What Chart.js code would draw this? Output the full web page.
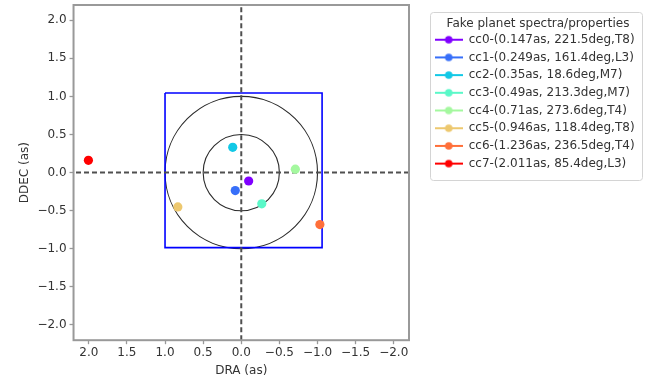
<!DOCTYPE html>
<html lang="en">
<head>
<meta charset="UTF-8">
<title>Fake planet positions</title>
<script src="https://cdn.jsdelivr.net/npm/chart.js"></script>
<style>
  html, body { margin: 0; padding: 0; background: #fff; }
  #wrap { width: 648px; height: 378px; position: relative; }
</style>
</head>
<body>
<div id="wrap"><canvas id="astroChart"></canvas></div>
<script>
// companions: separation (arcsec), position angle (deg), spectral type
const planetNames = ['cc0', 'cc1', 'cc2', 'cc3', 'cc4', 'cc5', 'cc6', 'cc7'];
const planetSep = [0.147, 0.249, 0.35, 0.49, 0.71, 0.946, 1.236, 2.011];
const planetPA = [221.5, 161.4, 18.6, 213.3, 273.6, 118.4, 236.5, 85.4];
const planetType = ['T8', 'L3', 'M7', 'M7', 'T4', 'T8', 'T4', 'L3'];
// offsets on sky (arcsec)
const planetDRA = [-0.097, 0.079, 0.112, -0.269, -0.709, 0.832, -1.031, 2.005];
const planetDDEC = [-0.110, -0.236, 0.332, -0.410, 0.045, -0.450, -0.682, 0.161];
const planetColors = ['#8000ff', '#376ff9', '#12c8e6', '#5af8c8', '#a4f89f', '#edc86f', '#ff6f39', '#ff0000'];

// reference rings and detector field
const ringRadii = [0.5, 1.0];
const fovDRA = [1.0, -1.06, -1.06, 1.0, 1.0];
const fovDDEC = [1.045, 1.045, -0.985, -0.985, 1.045];

const axisTicks = [-2.0, -1.5, -1.0, -0.5, 0.0, 0.5, 1.0, 1.5, 2.0];
const axisLimit = 2.2;

const FONT = 'DejaVu Sans';
const TEXT = '#333';
const FRAME = '#999';

function fmtTick(v) {
  return v.toFixed(1).replace('-', '\u2212');
}

// small line+dot marker for the legend
function makeMarker(color) {
  const c = document.createElement('canvas');
  c.width = 28; c.height = 10;
  const g = c.getContext('2d');
  g.strokeStyle = color; g.lineWidth = 2;
  g.beginPath(); g.moveTo(0, 5); g.lineTo(28, 5); g.stroke();
  g.fillStyle = color;
  g.beginPath(); g.arc(14, 5, 3.8, 0, Math.PI * 2); g.fill();
  return c;
}
const legendMarkers = planetColors.map(makeMarker);

const planetSets = planetNames.map((name, i) => ({
  type: 'scatter',
  label: `${name}-(${planetSep[i]}as, ${planetPA[i]}deg,${planetType[i]})`,
  data: [{ x: planetDRA[i], y: planetDDEC[i] }],
  backgroundColor: planetColors[i],
  borderColor: planetColors[i],
  pointRadius: 4.6,
  pointBorderWidth: 0,
  order: 0
}));

const crossSets = [
  { data: [{ x: 0, y: -axisLimit }, { x: 0, y: axisLimit }] },
  { data: [{ x: -axisLimit, y: 0 }, { x: axisLimit, y: 0 }] }
].map(d => Object.assign(d, {
  type: 'line',
  borderColor: '#4f4f4f',
  borderWidth: 2,
  borderDash: [5, 3],
  pointRadius: 0,
  order: 1
}));

const fovSet = {
  type: 'line',
  data: fovDRA.map((x, i) => ({ x, y: fovDDEC[i] })),
  borderColor: '#0000ff',
  borderWidth: 1.6,
  pointRadius: 0,
  order: 2
};

const ringsPlugin = {
  id: 'rings',
  beforeDatasetsDraw(chart) {
    const { ctx, scales: { x, y } } = chart;
    const cx = x.getPixelForValue(0), cy = y.getPixelForValue(0);
    ctx.save();
    ctx.strokeStyle = '#2a2a2a';
    ctx.lineWidth = 1.1;
    ringRadii.forEach(r => {
      const rx = Math.abs(x.getPixelForValue(r) - cx);
      const ry = Math.abs(y.getPixelForValue(r) - cy);
      ctx.beginPath();
      ctx.ellipse(cx, cy, rx, ry, 0, 0, Math.PI * 2);
      ctx.stroke();
    });
    ctx.restore();
  }
};

// keep a gap between the plot and the legend column
const legendShift = {
  id: 'legendShift',
  afterLayout(chart) {
    const lg = chart.legend;
    lg.left = chart.chartArea.right + 20;
    lg.width = 218;
    lg.right = lg.left + lg.width;
  }
};

const framePlugin = {
  id: 'frame',
  afterDraw(chart) {
    const { ctx, chartArea: a, legend } = chart;
    ctx.save();
    ctx.strokeStyle = FRAME;
    ctx.lineWidth = 2;
    ctx.strokeRect(a.left, a.top, a.right - a.left, a.bottom - a.top);
    // legend box
    ctx.strokeStyle = '#d4d4d4';
    ctx.lineWidth = 1;
    ctx.beginPath();
    ctx.roundRect(legend.left + 1.5, legend.top + 7.5, 212, 168, 3);
    ctx.stroke();
    ctx.restore();
  }
};

// no extra room for half tick labels at the axis ends
function dropEndPadding(s) {
  s.paddingTop = 0; s.paddingBottom = 0;
  s.paddingLeft = 0; s.paddingRight = 0;
}

function axisOpts(title, reverse, tickPad, titlePad) {
  return {
    type: 'linear',
    min: -axisLimit,
    max: axisLimit,
    reverse,
    afterBuildTicks: s => { s.ticks = axisTicks.map(v => ({ value: v })); },
    afterFit: dropEndPadding,
    ticks: {
      callback: v => fmtTick(v),
      color: TEXT,
      font: { family: FONT, size: 12 },
      padding: tickPad,
      maxRotation: 0
    },
    grid: { drawOnChartArea: false, drawTicks: true, tickLength: 4, color: FRAME, tickWidth: 1.3 },
    border: { display: false },
    title: { display: true, text: title, color: TEXT, font: { family: FONT, size: 12 }, padding: titlePad }
  };
}

new Chart(document.getElementById('astroChart'), {
  type: 'scatter',
  data: { datasets: [...planetSets, ...crossSets, fovSet] },
  options: {
    responsive: true,
    maintainAspectRatio: false,
    animation: false,
    layout: { autoPadding: false, padding: { left: 16, top: 5, right: 39, bottom: 0 } },
    scales: {
      x: axisOpts('DRA (as)', true, 1.5, { top: 2, bottom: 0 }),
      y: axisOpts('DDEC (as)', false, 3, { top: 2, bottom: 2 })
    },
    plugins: {
      tooltip: { enabled: false },
      legend: {
        position: 'right',
        align: 'start',
        maxWidth: 200,
        title: {
          display: true,
          text: 'Fake planet spectra/properties',
          color: TEXT,
          font: { family: FONT, size: 12, lineHeight: 1 },
          padding: { top: 13, bottom: -2 }
        },
        labels: {
          usePointStyle: true,
          pointStyleWidth: 28,
          boxHeight: 10,
          padding: 5.7,
          color: TEXT,
          font: { family: FONT, size: 12 },
          generateLabels(chart) {
            return Chart.defaults.plugins.legend.labels.generateLabels(chart)
              .filter(item => item.datasetIndex < planetNames.length)
              .map(item => Object.assign(item, { pointStyle: legendMarkers[item.datasetIndex] }));
          }
        }
      }
    }
  },
  plugins: [ringsPlugin, legendShift, framePlugin]
});
</script>
</body>
</html>
